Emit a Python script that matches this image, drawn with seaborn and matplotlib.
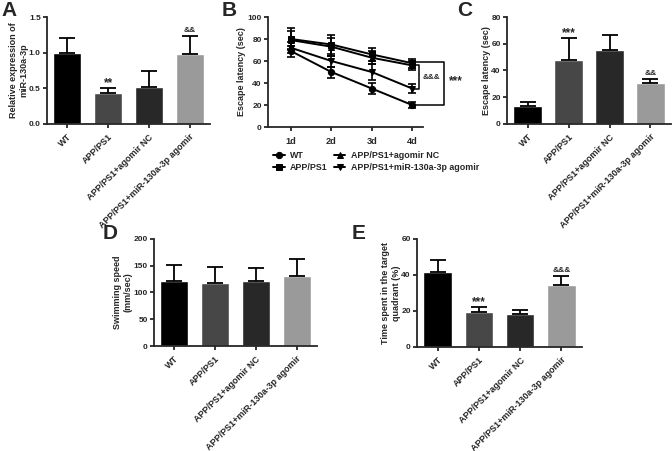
import numpy as np
import pandas as pd
import seaborn as sns
import matplotlib.pyplot as plt

# ================= DATA =================
GROUPS = ["WT", "APP/PS1", "APP/PS1+agomir NC", "APP/PS1+miR-130a-3p agomir"]
BAR_COLORS = ["#000000", "#474747", "#282828", "#9a9a9a"]

# A - relative expression of miR-130a-3p
expr_mean = [1.00, 0.43, 0.52, 0.98]
expr_err = [0.20, 0.075, 0.22, 0.25]
expr_sig = ["", "**", "", "&&"]

# B - escape latency over training days
DAYS = ["1d", "2d", "3d", "4d"]
lat_wt = [69, 50, 35, 20]
lat_app = [80, 75, 66, 58]
lat_nc = [79, 73, 63, 56]
lat_ago = [72, 60, 50, 35]
lat_wt_err = [5, 5, 5, 3]
lat_app_err = [10, 9, 6, 4]
lat_nc_err = [8, 8, 6, 4]
lat_ago_err = [5, 5, 7, 4]

# C - escape latency (probe)
esc_mean = [13.7, 48.0, 55.2, 30.8]
esc_err = [2.6, 16.5, 11.5, 2.7]
esc_sig = ["", "***", "", "&&"]

# D - swimming speed
speed_mean = [122, 117, 121, 131]
speed_err = [30, 31, 24, 31]

# E - time in target quadrant
quad_mean = [41.7, 19.6, 18.6, 34.4]
quad_err = [6.8, 2.5, 2.2, 5.0]
quad_sig = ["", "***", "", "&&&"]

# ================= STYLE =================
sns.set_style("ticks")
plt.rcParams["font.family"] = ["Liberation Sans", "DejaVu Sans"]
plt.rcParams["font.weight"] = "bold"
plt.rcParams["axes.labelweight"] = "bold"
plt.rcParams["axes.linewidth"] = 1.3
plt.rcParams["xtick.major.width"] = 1.3
plt.rcParams["ytick.major.width"] = 1.3
plt.rcParams["xtick.major.size"] = 3
plt.rcParams["ytick.major.size"] = 3
plt.rcParams["xtick.major.pad"] = 2
plt.rcParams["ytick.major.pad"] = 1.5

fig = plt.figure(figsize=(6.72, 4.51), dpi=100)


def add_sig(ax, x, y, s):
    # asterisks drawn larger than ampersands, like the original
    size = 8.5 if "*" in s else 6
    off = -1 if "*" in s else 1.5
    ax.annotate(s, (x, y), xytext=(0, off), textcoords="offset points",
                ha="center", va="bottom", fontsize=size, fontweight="bold")


def bar_panel(rect, means, errs, ylabel, ylim, yticks, sig=None, fmt="%.0f"):
    ax = fig.add_axes(rect)
    df = pd.DataFrame({"group": GROUPS, "value": means})
    sns.barplot(data=df, x="group", y="value", hue="group", palette=BAR_COLORS,
                legend=False, width=0.69, ax=ax, saturation=1)
    ax.errorbar(range(len(GROUPS)), means, yerr=[np.zeros(len(errs)), errs],
                fmt="none", ecolor="black", elinewidth=1.3, capsize=6, capthick=1.3)
    if sig:
        for i, s in enumerate(sig):
            if s:
                add_sig(ax, i, means[i] + errs[i], s)
    ax.set_xlim(-0.5, 3.5)
    ax.set_ylim(*ylim)
    ax.set_yticks(yticks)
    ax.yaxis.set_major_formatter(plt.FormatStrFormatter(fmt))
    ax.set_xlabel("")
    ax.set_ylabel(ylabel, fontsize=6.5, labelpad=0.5)
    ax.tick_params(axis="y", labelsize=6)
    ax.set_xticks(range(len(GROUPS)))
    ax.set_xticklabels(GROUPS, rotation=45, ha="right", rotation_mode="anchor", fontsize=6.5)
    ax.tick_params(axis="x", pad=3)
    sns.despine(ax=ax)
    return ax


# A
bar_panel([0.0699, 0.7251, 0.2426, 0.2372], expr_mean, expr_err,
          "Relative expression of\nmiR-130a-3p", (0, 1.5), [0, 0.5, 1.0, 1.5],
          sig=expr_sig, fmt="%.1f")

# B
axb = fig.add_axes([0.3988, 0.7184, 0.2307, 0.2439])
lat_df = pd.DataFrame({
    "day": list(range(4)) * 4,
    "latency": lat_wt + lat_app + lat_nc + lat_ago,
    "group": [g for g in GROUPS for _ in range(4)],
})
sns.lineplot(data=lat_df, x="day", y="latency", hue="group", style="group",
             palette=["black"] * 4, markers=["o", "s", "^", "v"], dashes=False,
             markersize=4.5, markeredgecolor="black", linewidth=1.4, ax=axb)
for vals, errs in [(lat_wt, lat_wt_err), (lat_app, lat_app_err),
                   (lat_nc, lat_nc_err), (lat_ago, lat_ago_err)]:
    axb.errorbar(range(4), vals, yerr=errs, fmt="none", ecolor="black",
                 elinewidth=1.2, capsize=3, capthick=1.2)
# significance brackets on day 4
axb.plot([3.05, 3.17, 3.17, 3.05], [lat_nc[3], lat_nc[3], lat_ago[3], lat_ago[3]],
         color="black", lw=1.1, clip_on=False)
axb.plot([3.05, 3.78, 3.78, 3.05], [lat_app[3] + 1, lat_app[3] + 1, lat_wt[3], lat_wt[3]],
         color="black", lw=1.1, clip_on=False)
axb.text(3.48, 45, "&&&", ha="center", va="center", fontsize=5.8, fontweight="bold")
axb.text(4.08, 42, "***", ha="center", va="center", fontsize=8.5, fontweight="bold")
axb.set_xlim(-0.57, 3.27)
axb.set_ylim(0, 100)
axb.set_yticks([0, 20, 40, 60, 80, 100])
axb.set_xticks(range(4))
axb.set_xticklabels(DAYS, fontsize=6.6)
axb.tick_params(axis="y", labelsize=6)
axb.tick_params(axis="x", pad=4)
axb.set_xlabel("")
axb.set_ylabel("Escape latency (sec)", fontsize=6.5, labelpad=1)
sns.despine(ax=axb)
axb.legend(loc="upper left", bbox_to_anchor=(0.01, -0.19), ncol=2, frameon=False,
           handlelength=1.3, handletextpad=0.6, columnspacing=0.7,
           labelspacing=0.25, borderaxespad=0, prop={"weight": "bold", "size": 6.4})

# C
bar_panel([0.7545, 0.7251, 0.2440, 0.2372], esc_mean, esc_err,
          "Escape latency (sec)", (0, 80), [0, 20, 40, 60, 80], sig=esc_sig)

# D
bar_panel([0.2292, 0.2328, 0.2425, 0.2373], speed_mean, speed_err,
          "Swimming speed\n(mm/sec)", (0, 200), [0, 50, 100, 150, 200])

# E
bar_panel([0.6205, 0.2306, 0.2455, 0.2395], quad_mean, quad_err,
          "Time spent in the target\nquadrant (%)", (0, 60), [0, 20, 40, 60], sig=quad_sig)

# panel letters
for letter, x, y in [("A", 0.002, 0.998), ("B", 0.330, 0.998), ("C", 0.680, 0.998),
                     ("D", 0.152, 0.503), ("E", 0.523, 0.503)]:
    fig.text(x, y, letter, fontsize=15, fontweight="bold", ha="left", va="top")

fig.savefig("out.png", dpi=100)
